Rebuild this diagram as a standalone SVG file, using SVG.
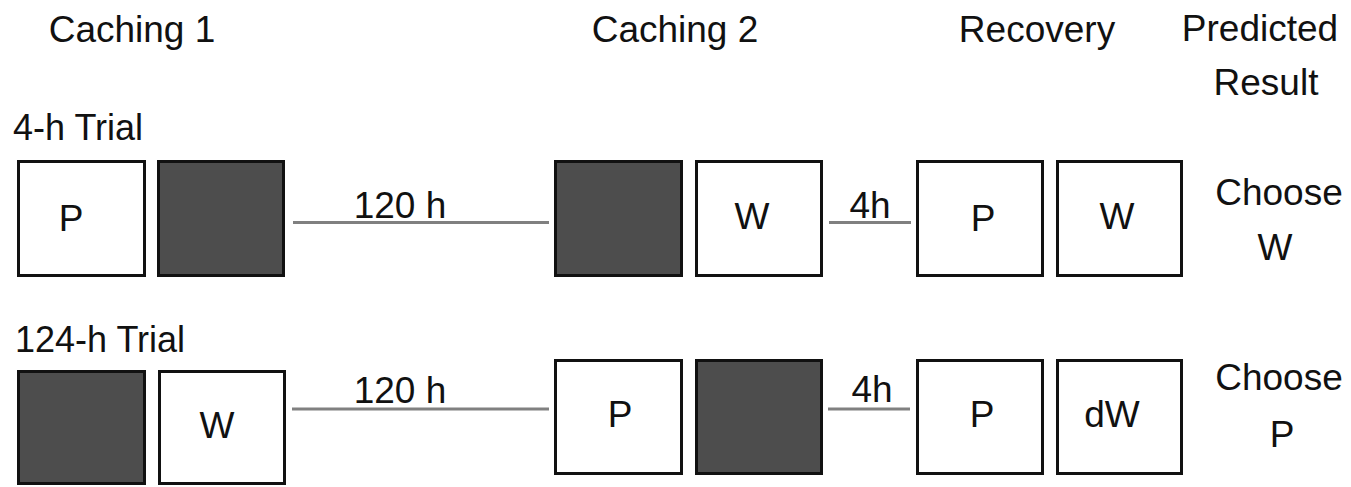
<svg xmlns="http://www.w3.org/2000/svg" width="1351" height="487" viewBox="0 0 1351 487">
<style>
  text { font-family: "Liberation Sans", Arial, sans-serif; font-size: 37px; fill: #111; }
  .m { text-anchor: middle; }
  .box { fill: #ffffff; stroke: #111; stroke-width: 3; }
  .dark { fill: #4d4d4d; stroke: #111; stroke-width: 3; }
  .conn { stroke: #808080; stroke-width: 3; fill: none; }
</style>
<rect x="0" y="0" width="1351" height="487" fill="#ffffff"/>
<g id="headers">
  <text class="m" x="132" y="42">Caching 1</text>
  <text class="m" x="675" y="42">Caching 2</text>
  <text class="m" x="1037" y="42">Recovery</text>
  <text class="m" x="1260" y="41">Predicted</text>
  <text class="m" x="1266" y="95">Result</text>
  <text x="13" y="140" style="font-size:36px">4-h Trial</text>
  <text x="15" y="352" style="font-size:36px">124-h Trial</text>
</g>
<g id="connectors">
  <line class="conn" x1="293" y1="222.5" x2="549" y2="222.5"/>
  <line class="conn" x1="829" y1="222.5" x2="911" y2="222.5"/>
  <line class="conn" x1="292" y1="409" x2="549" y2="409"/>
  <line class="conn" x1="828" y1="409" x2="910" y2="409"/>
  <text class="m" x="400" y="218">120 h</text>
  <text class="m" x="870" y="218">4h</text>
  <text class="m" x="400" y="403">120 h</text>
  <text class="m" x="872" y="402">4h</text>
</g>
<g id="r1-c1-p"><rect class="box" x="18.5" y="161.5" width="126" height="114"/><text class="m" x="71" y="231">P</text></g>
<g id="r1-c1-dark"><rect class="dark" x="158.5" y="161.5" width="125" height="114"/></g>
<g id="r1-c2-dark"><rect class="dark" x="555.5" y="161.5" width="126" height="114"/></g>
<g id="r1-c2-w"><rect class="box" x="696.5" y="161.5" width="125" height="114"/><text class="m" x="752" y="229">W</text></g>
<g id="r1-rec-p"><rect class="box" x="917.5" y="161.5" width="125" height="114"/><text class="m" x="983" y="231">P</text></g>
<g id="r1-rec-w"><rect class="box" x="1057.5" y="161.5" width="124" height="114"/><text class="m" x="1117" y="229">W</text></g>
<g id="r1-result"><text class="m" x="1279" y="205">Choose</text><text class="m" x="1275" y="260">W</text></g>
<g id="r2-c1-dark"><rect class="dark" x="18.5" y="371.5" width="126" height="112"/></g>
<g id="r2-c1-w"><rect class="box" x="159.5" y="371.5" width="125" height="112"/><text class="m" x="217" y="438">W</text></g>
<g id="r2-c2-p"><rect class="box" x="555.5" y="360.5" width="126" height="113"/><text class="m" x="620" y="427">P</text></g>
<g id="r2-c2-dark"><rect class="dark" x="696.5" y="360.5" width="125" height="113"/></g>
<g id="r2-rec-p"><rect class="box" x="917.5" y="360.5" width="125" height="113"/><text class="m" x="982" y="427">P</text></g>
<g id="r2-rec-dw"><rect class="box" x="1057.5" y="360.5" width="124" height="113"/><text class="m" x="1112" y="427">dW</text></g>
<g id="r2-result"><text class="m" x="1279" y="390">Choose</text><text class="m" x="1282" y="447">P</text></g>
</svg>
